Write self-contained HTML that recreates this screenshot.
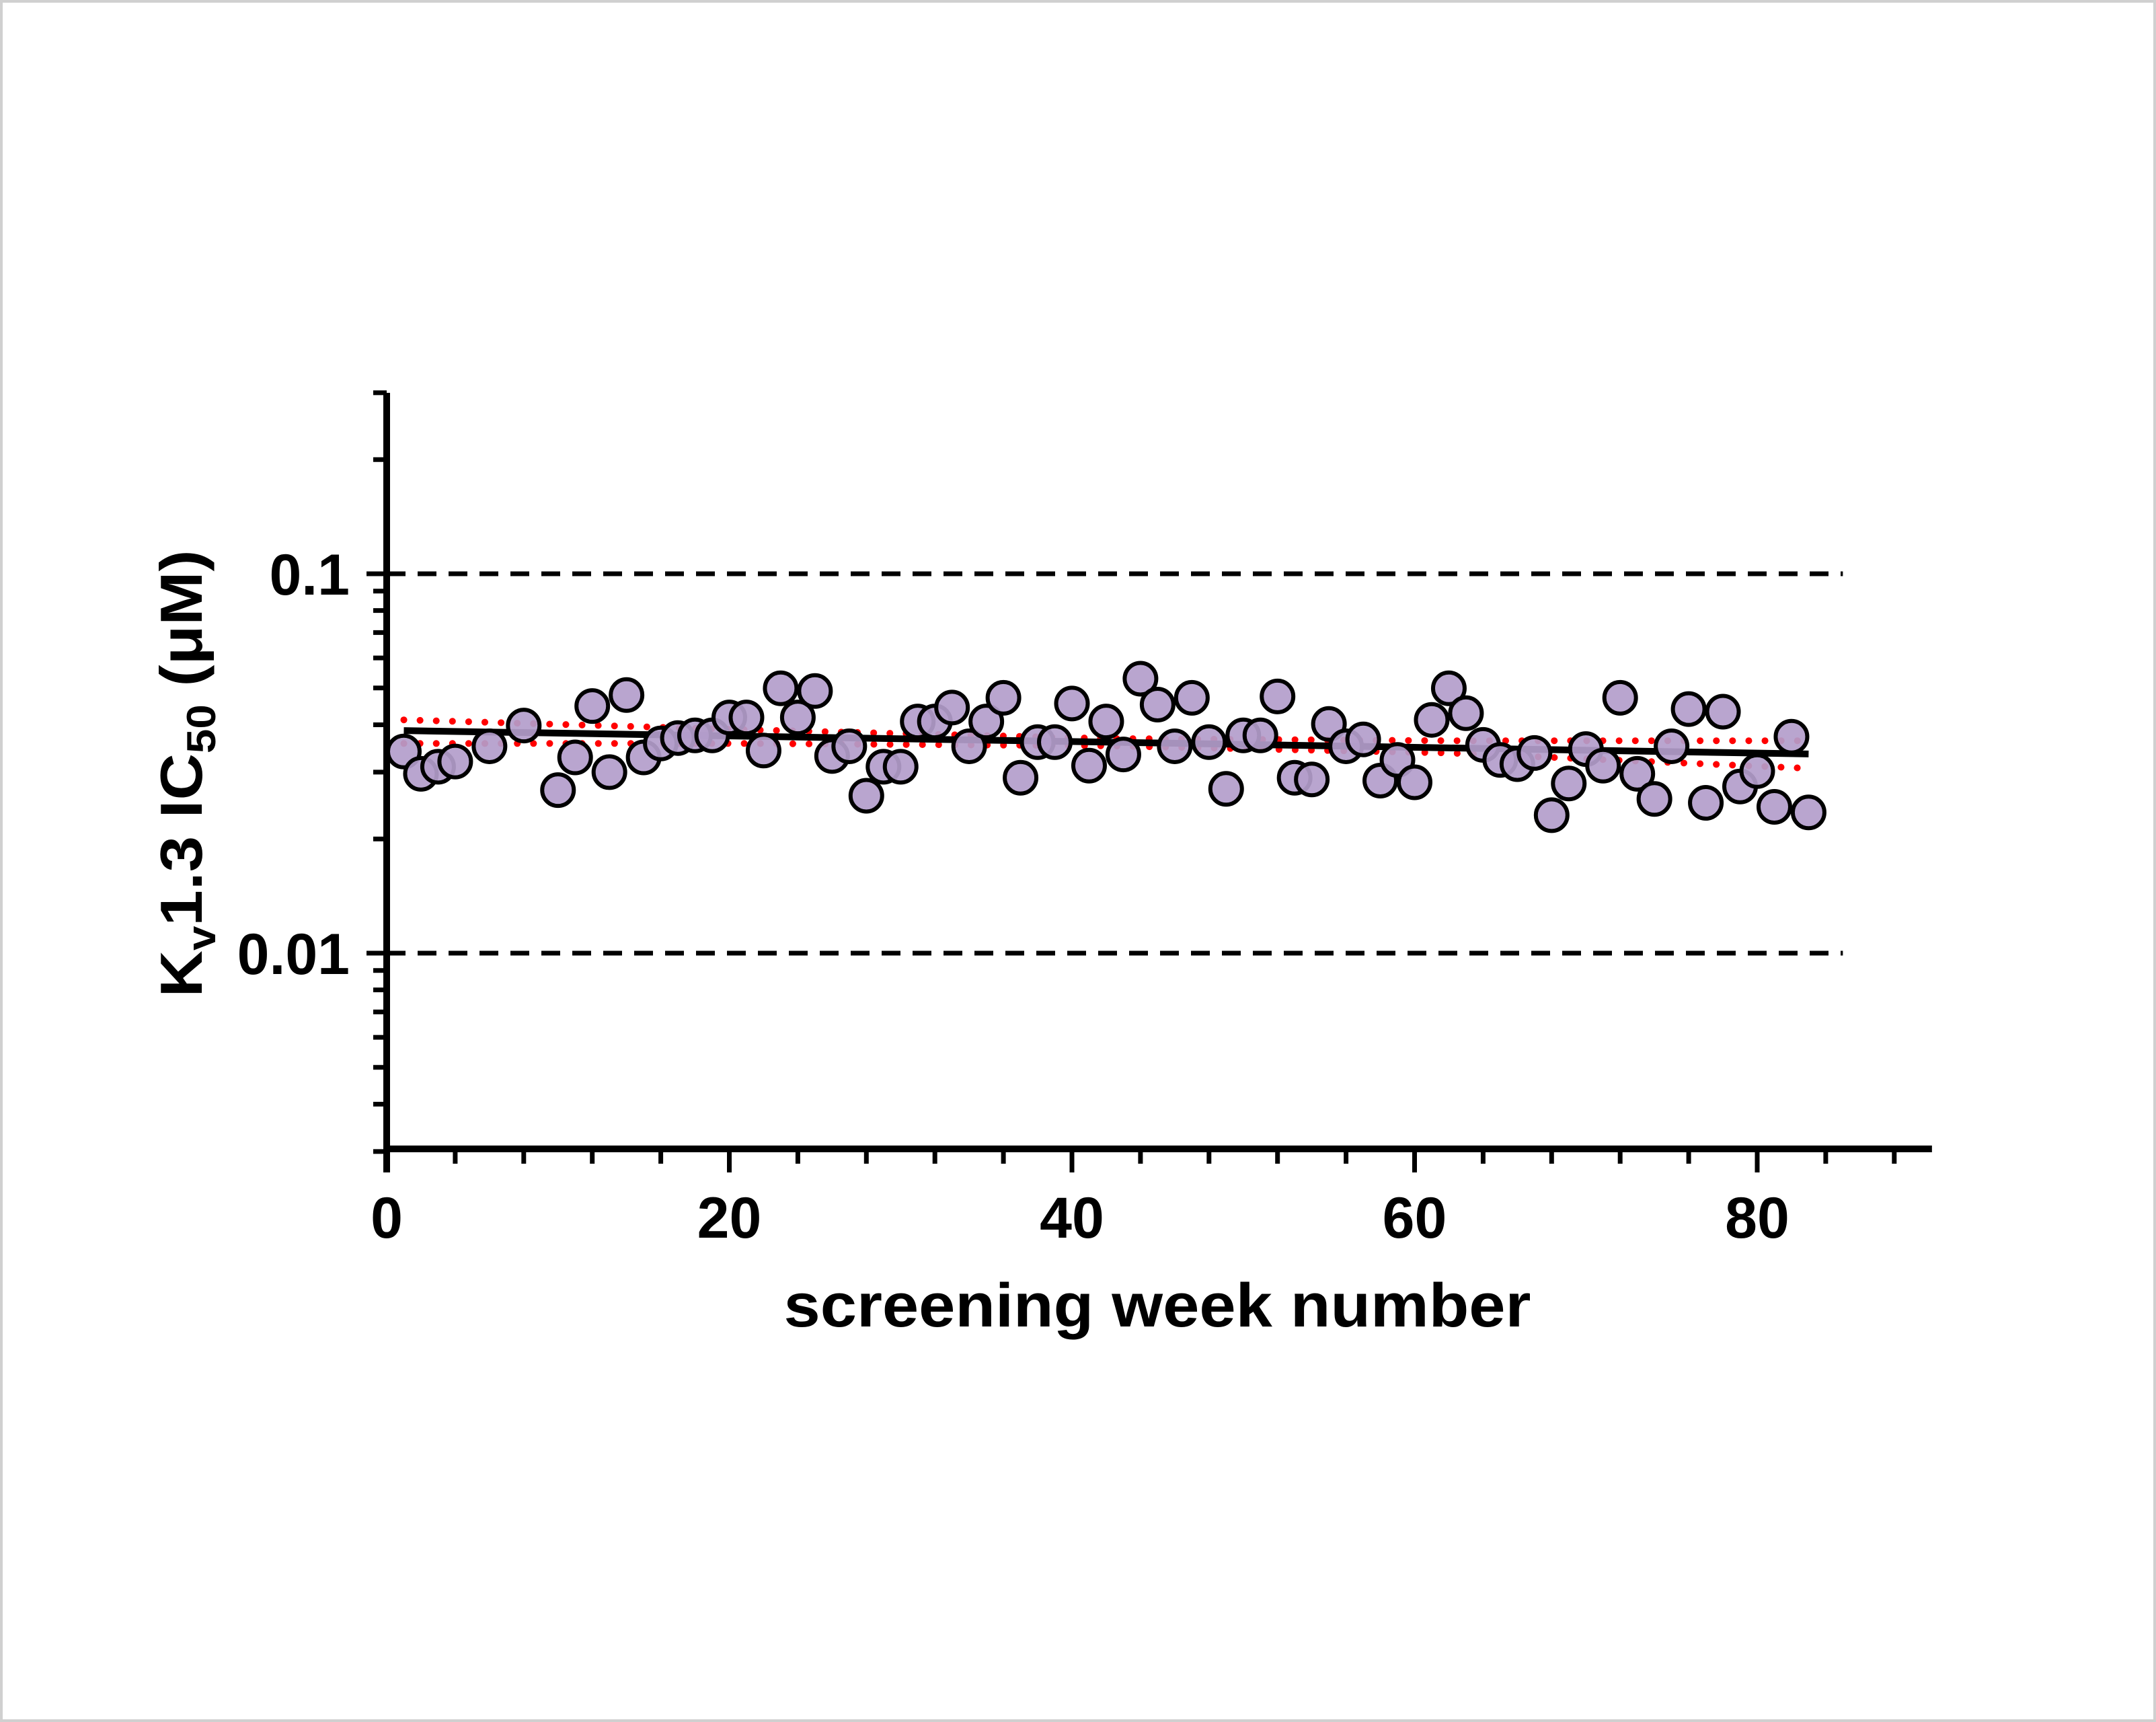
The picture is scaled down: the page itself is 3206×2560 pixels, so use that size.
<!DOCTYPE html>
<html><head><meta charset="utf-8"><style>
html,body{margin:0;padding:0;background:#fff}
svg{display:block}
text{font-family:"Liberation Sans",sans-serif;font-weight:bold;fill:#000}
</style></head><body>
<svg id="chart" width="3206" height="2560" viewBox="0 0 3206 2560" xmlns="http://www.w3.org/2000/svg">
<rect x="2" y="2" width="3202" height="2556" fill="#fff" stroke="#d0d0d0" stroke-width="4"/>
<g id="grid"></g>
<g id="fit"></g>
<g id="points"></g>
<g id="axes"></g>
<text x="1721" y="1972" font-size="92" text-anchor="middle" textLength="1111" lengthAdjust="spacingAndGlyphs">screening week number</text>
<text transform="translate(300,1150) rotate(-90)" font-size="88" text-anchor="middle" textLength="665" lengthAdjust="spacingAndGlyphs">K<tspan font-size="60" dy="20">v</tspan><tspan dy="-20">1.3 IC</tspan><tspan font-size="60" dy="20">50</tspan><tspan dy="-20"> (μM)</tspan></text>
</svg>
<script>
const weeks=[1,2,3,4,6,8,10,11,12,13,14,15,16,17,18,19,20,21,22,23,24,25,26,27,28,29,30,31,32,33,34,35,36,37,38,39,40,41,42,43,44,45,46,47,48,49,50,51,52,53,54,55,56,57,58,59,60,61,62,63,64,65,66,67,68,69,70,71,72,73,74,75,76,77,78,79,80,81,82,83];
const ic50=[0.0340,0.0297,0.0310,0.0320,0.0351,0.0398,0.0269,0.0328,0.0448,0.0300,0.0479,0.0328,0.0357,0.0369,0.0375,0.0375,0.0418,0.0418,0.0342,0.0499,0.0418,0.0491,0.0331,0.0351,0.0260,0.0310,0.0310,0.0408,0.0408,0.0444,0.0351,0.0408,0.0471,0.0290,0.0360,0.0360,0.0455,0.0312,0.0408,0.0334,0.0529,0.0452,0.0351,0.0471,0.0360,0.0271,0.0375,0.0375,0.0475,0.0290,0.0287,0.0402,0.0351,0.0366,0.0285,0.0323,0.0282,0.0412,0.0499,0.0429,0.0354,0.0323,0.0315,0.0337,0.0231,0.0280,0.0345,0.0312,0.0471,0.0297,0.0255,0.0351,0.0440,0.0249,0.0433,0.0275,0.0302,0.0243,0.0372,0.0235];
const fitX=[1,42,83];
const fitY=[0.0386,0.0360,0.0335];
const ciX=[1,21,42,62,83];
const ciUpper=[0.0412,0.0388,0.0368,0.0363,0.0363];
const ciLower=[0.0357,0.0357,0.0352,0.0337,0.0307];
const refLines=[0.1,0.01];
const xTicks=[0,20,40,60,80];
const xTickLabels=["0","20","40","60","80"];
const yTicks=[0.1,0.01];
const yTickLabels=["0.1","0.01"];
const X0=575,XS=25.475,Y1=853,DEC=564;
const sx=v=>X0+v*XS;
const sy=v=>Y1-Math.log10(v/0.1)*DEC;
const NS="http://www.w3.org/2000/svg";
function mk(t,parent,attrs){const e=document.createElementNS(NS,t);for(const k in attrs)e.setAttribute(k,attrs[k]);parent.appendChild(e);return e;}
const grid=document.getElementById('grid'),fit=document.getElementById('fit'),pts=document.getElementById('points'),axes=document.getElementById('axes');
refLines.forEach(v=>{const l=mk('line',grid,{x1:sx(0),x2:sx(85),y1:sy(v),y2:sy(v),stroke:'#000','stroke-width':7,'stroke-dasharray':'28 18'});

});
function poly(xs,ys,attrs,name){const p=mk('polyline',fit,Object.assign({points:xs.map((x,i)=>sx(x)+','+sy(ys[i])).join(' '),fill:'none'},attrs));

}
poly(ciX,ciUpper,{stroke:'#f00','stroke-width':10,'stroke-dasharray':'0.1 24','stroke-linecap':'round'},'ci-upper');
poly(ciX,ciLower,{stroke:'#f00','stroke-width':10,'stroke-dasharray':'0.1 24','stroke-linecap':'round'},'ci-lower');
weeks.forEach((w,i)=>{const c=mk('circle',pts,{cx:sx(w),cy:sy(ic50[i]),r:23.5,fill:'#b39dcb','fill-opacity':0.92,stroke:'#000','stroke-width':6});

});
poly(fitX,fitY,{stroke:'#000','stroke-width':10},'regression-line');
const ya=mk('line',axes,{x1:X0,x2:X0,y1:584,y2:1713,stroke:'#000','stroke-width':10});


const xa=mk('line',axes,{x1:X0-5,x2:sx(90.2),y1:1708,y2:1708,stroke:'#000','stroke-width':10});


for(let v=4;v<=88;v+=4){const maj=v%20===0;const t=mk('line',axes,{x1:sx(v),x2:sx(v),y1:1708,y2:1708+(maj?35:22),stroke:'#000','stroke-width':7});

}
mk('line',axes,{x1:X0,x2:X0,y1:1708,y2:1743,stroke:'#000','stroke-width':10});
[0.003,0.004,0.005,0.006,0.007,0.008,0.009,0.01,0.02,0.03,0.04,0.05,0.06,0.07,0.08,0.09,0.1,0.2,0.3].forEach(v=>{const maj=(v===0.1||v===0.01);const t=mk('line',axes,{x1:X0-(maj?30:20),x2:X0,y1:sy(v),y2:sy(v),stroke:'#000','stroke-width':7});

});
xTicks.forEach((v,i)=>{const t=mk('text',axes,{x:sx(v),y:1840,'font-size':86,'text-anchor':'middle'});t.textContent=xTickLabels[i];

});
yTicks.forEach((v,i)=>{const t=mk('text',axes,{x:520,y:sy(v)+31,'font-size':86,'text-anchor':'end'});t.textContent=yTickLabels[i];

});
</script>
</body></html>
